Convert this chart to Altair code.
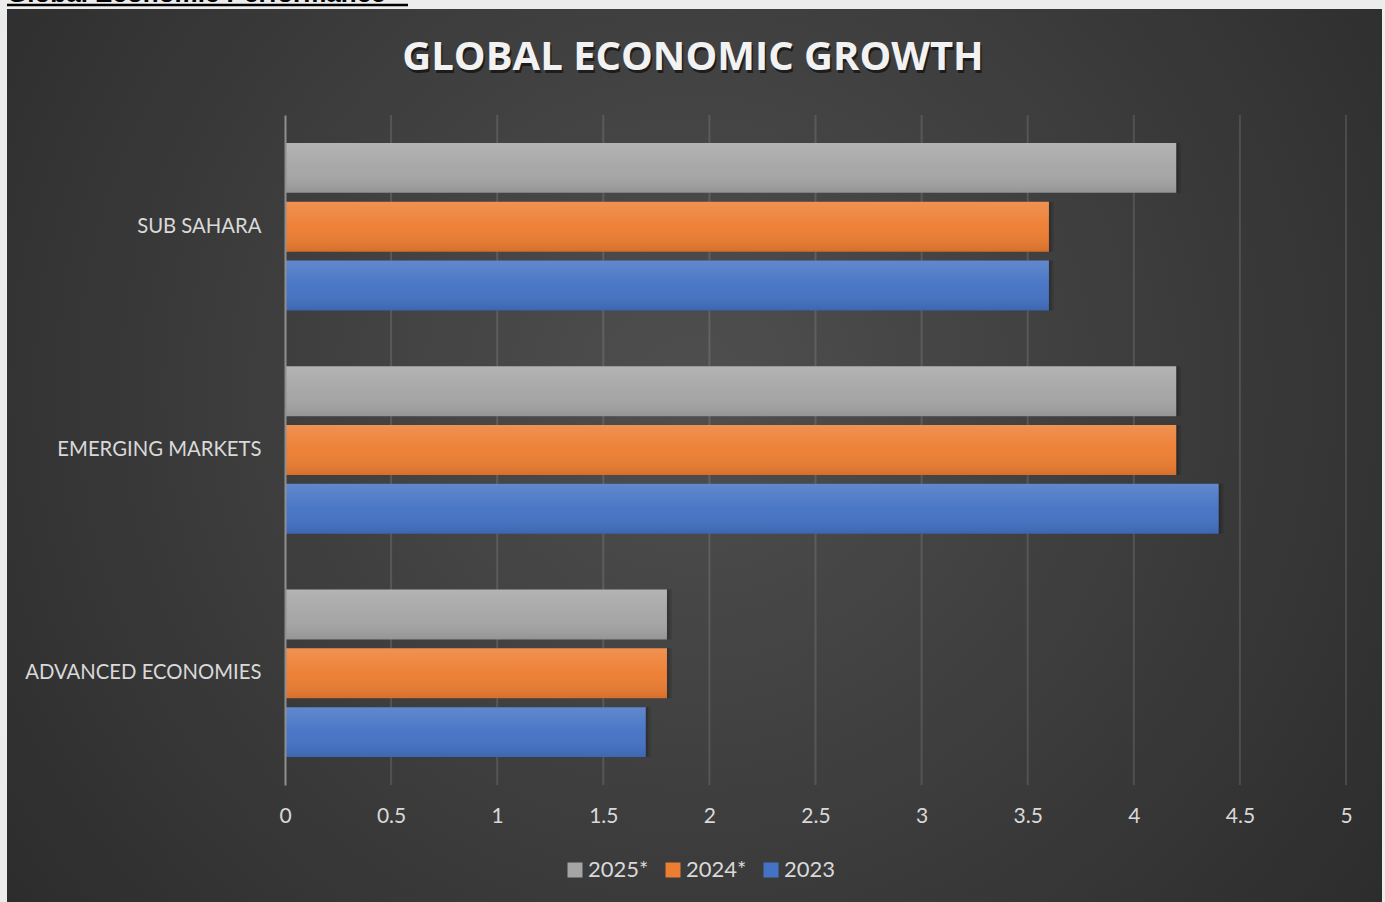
import altair as alt
import pandas as pd

# ---- data ----
regions = ["SUB SAHARA", "EMERGING MARKETS", "ADVANCED ECONOMIES"]
series = ["2025*", "2024*", "2023"]
values_2025 = [4.2, 4.2, 1.8]
values_2024 = [3.6, 4.2, 1.8]
values_2023 = [3.6, 4.4, 1.7]
x_ticks = [0, 0.5, 1, 1.5, 2, 2.5, 3, 3.5, 4, 4.5, 5]
series_colors = ["#a5a5a5", "#ed7d31", "#4472c4"]
chart_title = "GLOBAL ECONOMIC GROWTH"
doc_heading = "Global Economic Performance"

rows = []
for s, vals in zip(series, [values_2025, values_2024, values_2023]):
    for r, v in zip(regions, vals):
        rows.append({"region": r, "series": s, "value": v})
df = pd.DataFrame(rows)
grid_df = pd.DataFrame({"value": x_ticks[1:]})
one = pd.DataFrame({"k": [0]})

W, H = 1061, 670
PL, PT, PR, PB = 285, 115, 39, 117
FONT = "Lato"

x_scale = alt.Scale(domain=[0, 5], nice=False, zero=True)
x_axis = alt.Axis(
    zindex=2, grid=False, domain=False, ticks=False, values=x_ticks, format="~g",
    labelFont=FONT, labelFontSize=21, labelColor="#d9d9d9", labelPadding=20,
    labelFlush=False, title=None,
)
y_axis = alt.Axis(
    zindex=2, grid=False, ticks=False, domain=True, domainColor="#8f8f8f",
    domainWidth=2, labelFont=FONT, labelFontSize=20.3, labelColor="#d9d9d9",
    labelPadding=24, labelLimit=400, title=None,
)

# dark panel with radial gradient
panel = alt.Chart(one).mark_rect(
    fill={
        "gradient": "radial",
        "x1": 0.5, "y1": 0.45, "r1": 0,
        "x2": 0.5, "y2": 0.45, "r2": 0.72,
        "stops": [
            {"offset": 0, "color": "#4f4f4f"},
            {"offset": 1, "color": "#272727"},
        ],
    }
).encode(
    x=alt.value(7 - PL), x2=alt.value(1382 - PL),
    y=alt.value(9 - PT), y2=alt.value(902 - PT + 5),
)

heading = alt.Chart(pd.DataFrame({"t": [doc_heading]})).mark_text(
    font="Liberation Sans", fontSize=26, fontWeight="bold", color="#000000",
    align="left", baseline="alphabetic",
).encode(text="t:N", x=alt.value(7 - PL), y=alt.value(2 - PT))

underline = alt.Chart(one).mark_rule(color="#000000", strokeWidth=2.5).encode(
    x=alt.value(7 - PL), x2=alt.value(408 - PL), y=alt.value(5 - PT)
)

grid = alt.Chart(grid_df).mark_rule(color="#ffffff", opacity=0.12, strokeWidth=2).encode(
    x=alt.X("value:Q", scale=x_scale, axis=x_axis)
)

enc = dict(
    y=alt.Y("region:N", sort=regions, axis=y_axis,
            scale=alt.Scale(paddingInner=0.25, paddingOuter=0.125)),
    yOffset=alt.YOffset("series:N", sort=series,
                        scale=alt.Scale(paddingInner=0.15, paddingOuter=0)),
    x=alt.X("value:Q", scale=x_scale, axis=x_axis),
)

shadow1 = alt.Chart(df).mark_bar(color="#000000", opacity=0.10, xOffset=5, yOffset=5).encode(**enc)
shadow2 = alt.Chart(df).mark_bar(color="#000000", opacity=0.14, xOffset=2.5, yOffset=2.5).encode(**enc)

bars = alt.Chart(df).mark_bar().encode(
    color=alt.Color(
        "series:N", sort=series,
        scale=alt.Scale(domain=series, range=series_colors),
        legend=alt.Legend(
            title=None, orient="none", direction="horizontal",
            legendX=564 - PL, legendY=859 - PT,
            symbolType="square", symbolSize=225, symbolStrokeWidth=0,
            labelFont=FONT, labelFontSize=22, labelColor="#d9d9d9",
            labelOffset=2, columnPadding=13,
        ),
    ),
    **enc,
)

sheen = alt.Chart(df).mark_bar(
    fill={
        "gradient": "linear", "x1": 0, "y1": 0, "x2": 0, "y2": 1,
        "stops": [
            {"offset": 0, "color": "rgba(255,255,255,0.16)"},
            {"offset": 0.5, "color": "rgba(255,255,255,0.03)"},
            {"offset": 1, "color": "rgba(0,0,0,0.10)"},
        ],
    }
).encode(**enc)

title_shadow = alt.Chart(pd.DataFrame({"t": [chart_title]})).mark_text(
    font="Open Sans", fontSize=40, fontWeight="bold", color="#000000", opacity=0.55,
    align="center", baseline="middle",
).encode(text="t:N", x=alt.value(693 - PL + 1.5), y=alt.value(58 - PT + 2.5))

title_main = alt.Chart(pd.DataFrame({"t": [chart_title]})).mark_text(
    font="Open Sans", fontSize=40, fontWeight="bold", color="#f2f2f2",
    align="center", baseline="middle",
).encode(text="t:N", x=alt.value(693 - PL), y=alt.value(58 - PT))

chart = alt.layer(
    panel, heading, underline, grid, shadow1, shadow2, bars, sheen, title_shadow, title_main
).properties(
    width=W, height=H,
    padding={"left": PL, "top": PT, "right": PR, "bottom": PB},
    autosize=alt.AutoSizeParams(type="none"),
    background="#ececec",
).configure_view(
    strokeWidth=0
)

chart.save("out.html", embed_options={"renderer": "svg", "actions": False})
